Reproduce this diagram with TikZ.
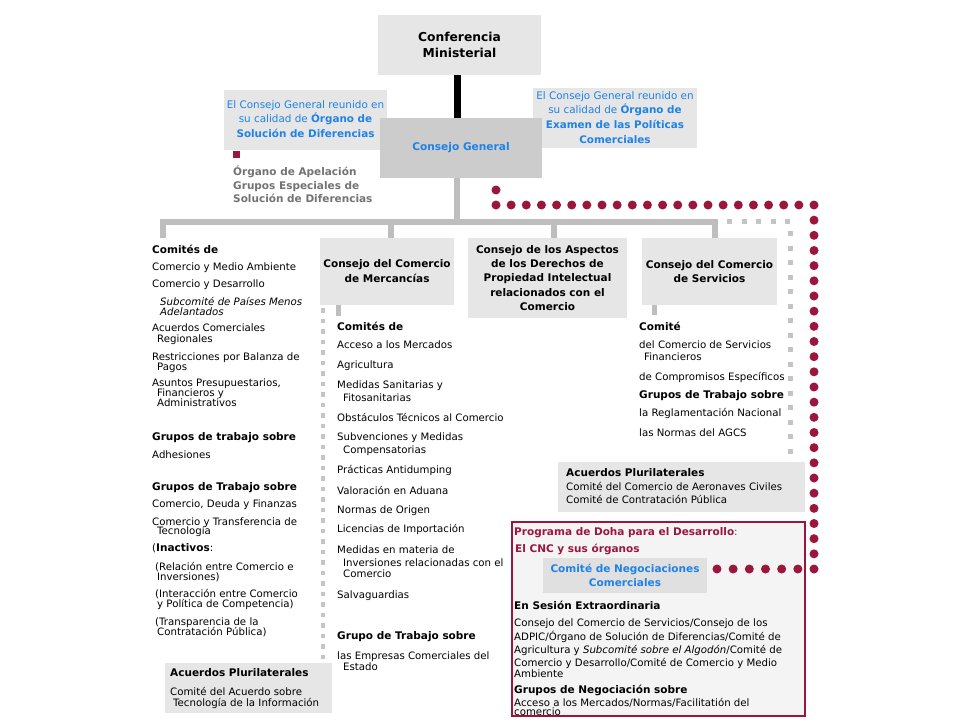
\documentclass[tikz,border=0pt]{standalone}
\usepackage{fontspec}
\setmainfont{DejaVu Sans}
\definecolor{boxgray}{RGB}{230,230,230}
\definecolor{cggray}{RGB}{204,204,204}
\definecolor{cncgray}{RGB}{224,224,224}
\definecolor{linegray}{RGB}{190,190,190}
\definecolor{sqgray}{RGB}{196,196,196}
\definecolor{wblue}{RGB}{30,130,230}
\definecolor{wmaroon}{RGB}{155,22,60}
\definecolor{txtgray}{RGB}{115,115,115}
\definecolor{dohafill}{RGB}{245,244,245}
\newcommand\regf{\fontsize{10.2}{11.5}\selectfont}
\newcommand\hb[1]{{\fontsize{10.5}{12}\selectfont\bfseries #1}}
\newcommand\tline[4]{\node[ln] (#1) at (#2,#3+3.6) {#4};}
\begin{document}
\begin{tikzpicture}[x=1pt,y=-1pt,
  box/.style={fill=boxgray, draw=none, inner sep=0pt, align=center, text=black},
  ln/.style={anchor=base west, inner sep=0pt, font=\regf, text=black},
  blackbar/.style={draw=black, line width=7pt},
  graybar/.style={draw=linegray, line width=6pt},
  graytick/.style={draw=linegray, line width=5pt},
  sqline/.style={draw=sqgray, line width=4.5pt, dash pattern=on 4.5pt off 6pt},
  sqline2/.style={draw=sqgray, line width=5pt, dash pattern=on 5pt off 9.5pt},
  mdot/.style={fill=wmaroon}
]
\fill[white] (0,0) rectangle (960,720);
\useasboundingbox (0,0) rectangle (960,720);

% top boxes
\node[box, minimum width=163, minimum height=60, font=\fontsize{12.3}{16.5}\selectfont\bfseries] (conf) at (459.5,45) {Conferencia\\Ministerial};
\node[box, minimum width=163, minimum height=60, text=wblue, font=\fontsize{10.4}{14.5}\selectfont, text depth=2.5pt] (dsb) at (305.5,120) {El Consejo General reunido en\\su calidad de \textbf{Órgano de}\\\textbf{Solución de Diferencias}};
\node[box, minimum width=164, minimum height=60, text=wblue, font=\fontsize{10.4}{14.7}\selectfont, text depth=1.5pt] (tprb) at (615,118) {El Consejo General reunido en\\su calidad de \textbf{Órgano de}\\\textbf{Examen de las Políticas}\\\textbf{Comerciales}};
\node[box, fill=cggray, minimum width=162, minimum height=60, text=wblue, font=\fontsize{10.6}{13}\selectfont\bfseries] (cg) at (461,148) {Consejo General};

\coordinate (trunk) at (457,0);
\draw[blackbar] (trunk |- conf.south) -- (trunk |- cg.north);

% DSB sub bodies
\node[fill=wmaroon, minimum width=7, minimum height=7, inner sep=0pt] (msq) at (236.5,154.5) {};
\node[anchor=base west, inner sep=0pt, text=txtgray, font=\fontsize{10.5}{13.5}\selectfont\bfseries, align=left] (ab) at (233,202.6) {Órgano de Apelación\\Grupos Especiales de\\Solución de Diferencias};

% council boxes
\node[box, minimum width=134, minimum height=67, font=\fontsize{10.5}{15}\selectfont\bfseries] (merc) at (387,271.5) {Consejo del Comercio\\de Mercancías};
\node[box, minimum width=159, minimum height=80, font=\fontsize{10.5}{14.3}\selectfont\bfseries] (adpic) at (547.5,278) {Consejo de los Aspectos\\de los Derechos de\\Propiedad Intelectual\\relacionados con el\\Comercio};
\node[box, minimum width=135, minimum height=67, font=\fontsize{10.5}{14}\selectfont\bfseries] (serv) at (709.5,271.5) {Consejo del Comercio\\de Servicios};

% gray tree
\coordinate (j1) at (163,221.5);
\coordinate (j2) at (390.5,221.5);
\coordinate (j3) at (553.5,221.5);
\coordinate (j4) at (715,221.5);
\coordinate (jt) at (457,221.5);
\coordinate (lefttop) at (163,238);
\draw[graybar] (trunk |- cg.south) -- (jt);
\draw[graybar] (lefttop) -- (j1) -- (j4) -- (j4 |- serv.north);
\draw[graybar] (j2) -- (j2 |- merc.north);
\draw[graybar] (j3) -- (j3 |- adpic.north);

% ticks under boxes
\coordinate (mt) at (338.5,316);
\coordinate (st) at (654.5,315);
\draw[graytick] (mt |- merc.south) -- (mt);
\draw[graytick] (st |- serv.south) -- (st);

% gray square lines
\coordinate (mq1) at (323,308);
\coordinate (mq2) at (323,670);
\draw[sqline] (mq1) -- (mq2);

% plurilateral right
\node[box, minimum width=247, minimum height=50] (plr) at (681.5,487) {};
\coordinate (rq1) at (727,221.5);
\coordinate (rq2) at (790,221.5);
\draw[sqline2] (rq1) -- (rq2) -- (rq2 |- plr.north);
\tline{p1}{566}{473}{\hb{Acuerdos Plurilaterales}}
\tline{p2}{566}{486.5}{Comité del Comercio de Aeronaves Civiles}
\tline{p3}{566}{500}{Comité de Contratación Pública}

% plurilateral left
\node[box, minimum width=167, minimum height=50] (pll) at (248.5,688) {};
\tline{q1}{170}{673}{\hb{Acuerdos Plurilaterales}}
\tline{q2}{170}{692}{Comité del Acuerdo sobre}
\tline{q3}{173}{703}{Tecnología de la Información}

% left column
\tline{l1}{152}{250}{\hb{Comités de}}
\tline{l2}{152}{267}{Comercio y Medio Ambiente}
\tline{l3}{152}{284}{Comercio y Desarrollo}
\tline{l4}{160}{302}{\textit{Subcomité de Países Menos}}
\tline{l5}{160}{312}{\textit{Adelantados}}
\tline{l6}{152}{328}{Acuerdos Comerciales}
\tline{l7}{157}{339}{Regionales}
\tline{l8}{152}{357}{Restricciones por Balanza de}
\tline{l9}{157}{367}{Pagos}
\tline{l10}{152}{383}{Asuntos Presupuestarios,}
\tline{l11}{157}{393}{Financieros y}
\tline{l12}{157}{403}{Administrativos}
\tline{l13}{152}{437}{\hb{Grupos de trabajo sobre}}
\tline{l14}{152}{455}{Adhesiones}
\tline{l15}{152}{487}{\hb{Grupos de Trabajo sobre}}
\tline{l16}{152}{504}{Comercio, Deuda y Finanzas}
\tline{l17}{152}{522}{Comercio y Transferencia de}
\tline{l18}{157}{531}{Tecnología}
\tline{l19}{152}{548}{(\hb{Inactivos}:}
\tline{l20}{155}{567}{(Relación entre Comercio e}
\tline{l21}{157}{577}{Inversiones)}
\tline{l22}{155}{594}{(Interacción entre Comercio}
\tline{l23}{157}{604}{y Política de Competencia)}
\tline{l24}{155}{622}{(Transparencia de la}
\tline{l25}{157}{632}{Contratación Pública)}

% middle column
\tline{m1}{337}{327}{\hb{Comités de}}
\tline{m2}{337}{345}{Acceso a los Mercados}
\tline{m3}{337}{365}{Agricultura}
\tline{m4}{337}{385}{Medidas Sanitarias y}
\tline{m5}{343}{398}{Fitosanitarias}
\tline{m6}{337}{418}{Obstáculos Técnicos al Comercio}
\tline{m7}{337}{437}{Subvenciones y Medidas}
\tline{m8}{343}{450}{Compensatorias}
\tline{m9}{337}{470}{Prácticas Antidumping}
\tline{m10}{337}{491}{Valoración en Aduana}
\tline{m11}{337}{510}{Normas de Origen}
\tline{m12}{337}{529}{Licencias de Importación}
\tline{m13}{337}{550}{Medidas en materia de}
\tline{m14}{343}{563}{Inversiones relacionadas con el}
\tline{m15}{343}{574}{Comercio}
\tline{m16}{337}{595}{Salvaguardias}
\tline{m17}{337}{636}{\hb{Grupo de Trabajo sobre}}
\tline{m18}{337}{656}{las Empresas Comerciales del}
\tline{m19}{343}{667}{Estado}

% right column
\tline{r1}{639}{327}{\hb{Comité}}
\tline{r2}{639}{345}{del Comercio de Servicios}
\tline{r3}{644}{357}{Financieros}
\tline{r4}{639}{377}{de Compromisos Específicos}
\tline{r5}{639}{395}{\hb{Grupos de Trabajo sobre}}
\tline{r6}{639}{413}{la Reglamentación Nacional}
\tline{r7}{639}{433}{las Normas del AGCS}

% Doha box
\node[fill=dohafill, draw=none, minimum width=293, minimum height=194, inner sep=0pt] (doha) at (658.5,619) {};
\tline{t1}{514}{532}{\textcolor{wmaroon}{\hb{Programa de Doha para el Desarrollo}:}}
\tline{t2}{515}{549}{\textcolor{wmaroon}{\hb{El CNC y sus órganos}}}
\node[box, fill=cncgray, minimum width=164, minimum height=35, text=wblue, font=\fontsize{10.5}{14}\selectfont\bfseries] (cnc) at (625,575.5) {Comité de Negociaciones\\Comerciales};
\tline{d1}{514}{606}{\hb{En Sesión Extraordinaria}}
\tline{d2}{514}{623}{Consejo del Comercio de Servicios/Consejo de los}
\tline{d3}{514}{637}{ADPIC/Órgano de Solución de Diferencias/Comité de}
\tline{d4}{514}{650}{Agricultura y \textit{Subcomité sobre el Algodón}/Comité de}
\tline{d5}{514}{663}{Comercio y Desarrollo/Comité de Comercio y Medio}
\tline{d6}{514}{674}{Ambiente}
\tline{d7}{514}{690}{\hb{Grupos de Negociación sobre}}
\tline{d8}{514}{703}{Acceso a los Mercados/Normas/Facilitatión del}
\tline{d9}{514}{712}{comercio}
\draw[wmaroon, line width=1.5pt] (doha.north west) rectangle (doha.south east);
\fill[white] (500,717) rectangle (820,720);

% maroon dots
\fill[mdot] (496,190) circle (4.5);
\foreach \i in {0,...,21} \fill[mdot] (496+\i*15.143,205) circle (4.5);
\foreach \i in {1,...,24} \fill[mdot] (814,205+\i*15.167) circle (4.5);
\foreach \i in {1,...,6} \fill[mdot] (814-\i*16.17,569) circle (4.5);
\end{tikzpicture}
\end{document}
